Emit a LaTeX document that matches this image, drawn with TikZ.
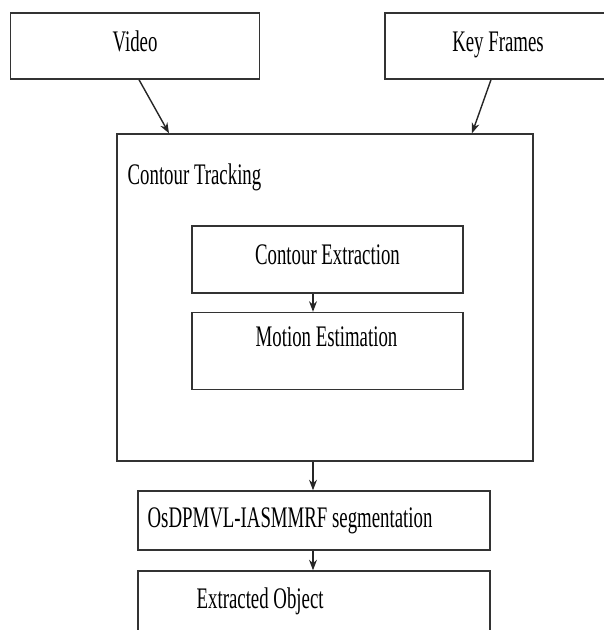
\documentclass[tikz,border=0pt]{standalone}
\usepackage{fontspec}
\setmainfont{Liberation Serif}[FakeStretch=0.63]
\usepackage{tikz}
\usetikzlibrary{calc}
\usetikzlibrary{positioning}
\usetikzlibrary{arrows.meta}
\newlength\unitpx
\setlength\unitpx{0.02cm}
\tikzstyle{arrow} = [thick,-{Stealth[length=6pt,width=4.5pt]},color=black!85]
\tikzset{
    block/.style={
        draw=black!80,
        line width=0.8pt,
        rectangle,
        inner sep=0,
        font=\fontsize{17}{20}\selectfont,
    },
    raised text/.style={
        text depth=9\unitpx,
    },
    block label/.style={
        inner sep=0,
        font=\fontsize{17}{20}\selectfont,
    },
}

\begin{document}
\begin{tikzpicture}[x=0.02cm, y=-0.02cm]

    \clip (0, 0) rectangle (604, 630);

    % inputs
    \node[block, raised text, minimum width=249\unitpx, minimum height=66\unitpx] (video) at (135, 46) {Video};
    \node[block, raised text, minimum width=226\unitpx, minimum height=66\unitpx] (keyframes) at (498, 46) {Key Frames};

    % tracking stage
    \node[block, minimum width=416\unitpx, minimum height=327\unitpx] (tracking) at (325, 297.5) {};
    \node[block label, anchor=west] (trackinglabel) at ($(tracking.north west)+(11, 44)$) {Contour Tracking};

    \node[block, raised text, minimum width=271\unitpx, minimum height=67\unitpx] (extraction) at (327.5, 259.5) {Contour Extraction};
    \node[block, minimum width=271\unitpx, minimum height=77\unitpx] (motion) at (327.5, 351) {};
    \node[block label] (motionlabel) at ($(motion.north)+(-1, 25)$) {Motion Estimation};

    % output stages
    \node[block, minimum width=352\unitpx, minimum height=59\unitpx] (segmentation) at (314, 520.5) {};
    \node[block label, anchor=west] (segmentationlabel) at ($(segmentation.west)+(10, 0)$) {OsDPMVL-IASMMRF  segmentation};

    \node[block, minimum width=352\unitpx, minimum height=98\unitpx] (extracted) at (314, 620) {};
    \node[block label, anchor=west] (extractedlabel) at ($(extracted.north west)+(59, 31)$) {Extracted Object};

    \draw[arrow] ($(video.south)+(4, 0)$) -- ($(tracking.north)+(-156, 0)$);
    \draw[arrow] ($(keyframes.south)+(-7, 0)$) -- ($(tracking.north)+(147, 0)$);
    \draw[arrow] ($(extraction.south)+(-14.5, 0)$) -- ($(motion.north)+(-14.5, 0)$);
    \draw[arrow] ($(tracking.south)+(-12, 0)$) -- ($(segmentation.north)+(-1, 0)$);
    \draw[arrow] ($(segmentation.south)+(-1, 0)$) -- ($(extracted.north)+(-1, 0)$);

\end{tikzpicture}
\end{document}
